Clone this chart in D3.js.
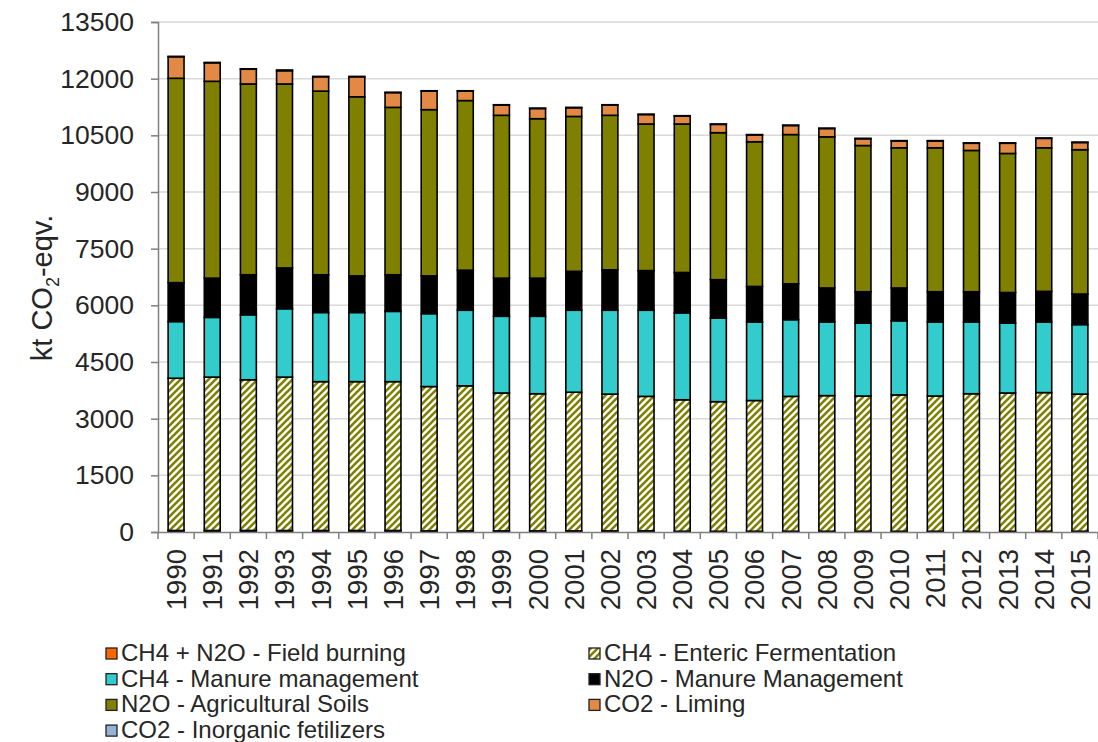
<!DOCTYPE html>
<html>
<head>
<meta charset="utf-8">
<script src="https://cdn.jsdelivr.net/npm/d3@7"></script>
<style>
  body { margin: 0; background: #fff; }
  text { font-family: "Liberation Sans", Arial, sans-serif; fill: #262626; }
</style>
</head>
<body>
<svg id="chart"></svg>
<script>
var years = ["1990","1991","1992","1993","1994","1995","1996","1997","1998","1999","2000","2001","2002",
             "2003","2004","2005","2006","2007","2008","2009","2010","2011","2012","2013","2014","2015"];

var fieldBurning = [40,40,40,40,40,40,40,30,30,30,30,30,30,30,20,20,20,20,20,20,20,20,20,20,20,20];
var enteric = [4030,4060,3990,4060,3940,3940,3940,3820,3840,3650,3630,3670,3620,3560,3480,3430,3460,3570,3590,3580,3610,3580,3640,3660,3670,3630];
var ch4Manure = [1500,1580,1720,1810,1830,1830,1860,1930,2000,2030,2050,2170,2220,2280,2300,2210,2080,2030,1950,1930,1960,1960,1900,1850,1870,1840];
var n2oManure = [1030,1040,1060,1080,1000,970,970,1000,1060,1010,1010,1030,1070,1050,1070,1020,940,950,900,830,870,800,800,810,810,810];
var agSoils = [5410,5210,5050,4870,4860,4740,4430,4400,4490,4310,4220,4100,4090,3880,3930,3890,3830,3950,4000,3870,3710,3810,3740,3680,3800,3820];
var liming = [570,490,390,350,380,530,390,490,250,270,270,230,270,250,210,220,180,240,220,180,180,180,190,270,250,190];
var inorganic = [10,10,10,20,10,10,10,10,10,10,10,10,10,10,10,10,10,10,10,10,10,10,10,10,10,10];

var yTicks = [0,1500,3000,4500,6000,7500,9000,10500,12000,13500];

var series = [
  {key: "fb",  name: "CH4 + N2O - Field burning", values: fieldBurning, color: "#ff6600"},
  {key: "ent", name: "CH4 - Enteric Fermentation", values: enteric, color: "url(#hatch)"},
  {key: "cm",  name: "CH4 - Manure management", values: ch4Manure, color: "#33cccc"},
  {key: "nm",  name: "N2O - Manure Management", values: n2oManure, color: "#000000"},
  {key: "soil",name: "N2O - Agricultural Soils", values: agSoils, color: "#808000"},
  {key: "lim", name: "CO2 - Liming", values: liming, color: "#e28a45"},
  {key: "inor",name: "CO2 - Inorganic fetilizers", values: inorganic, color: "#95b3d7"}
];

var width = 1098, height = 742;
var svg = d3.select("#chart").attr("width", width).attr("height", height);

var defs = svg.append("defs");
var pat = defs.append("pattern")
  .attr("id", "hatch")
  .attr("patternUnits", "userSpaceOnUse")
  .attr("width", 7).attr("height", 7);
pat.append("rect").attr("width", 7).attr("height", 7).attr("fill", "#fff");
pat.append("path")
  .attr("d", "M-1,1 l2,-2 M0,7 l7,-7 M6,8 l2,-2")
  .attr("stroke", "#808000")
  .attr("stroke-width", 2.6);

var rows = years.map(function(y, i) {
  var r = {year: y};
  series.forEach(function(s) { r[s.key] = s.values[i]; });
  return r;
});

var x = d3.scaleBand().domain(years).range([158, 1098]).paddingInner(0.56).paddingOuter(0.28);
var y = d3.scaleLinear().domain([0, 13500]).range([532, 22]);

// gridlines
svg.append("g")
  .selectAll("line")
  .data(yTicks.slice(1))
  .enter().append("line")
  .attr("x1", 158).attr("x2", 1098)
  .attr("y1", function(d) { return y(d); })
  .attr("y2", function(d) { return y(d); })
  .attr("stroke", "#d9d9d9")
  .attr("stroke-width", 1.5);

var stack = d3.stack().keys(series.map(function(s) { return s.key; }));
var layers = stack(rows);

svg.append("g")
  .selectAll("g")
  .data(layers)
  .enter().append("g")
  .attr("fill", function(d, i) { return series[i].color; })
  .selectAll("rect")
  .data(function(d) { return d; })
  .enter().append("rect")
  .attr("x", function(d) { return x(d.data.year); })
  .attr("width", x.bandwidth())
  .attr("y", function(d) { return y(d[1]); })
  .attr("height", function(d) { return y(d[0]) - y(d[1]); })
  .attr("stroke", "#000")
  .attr("stroke-width", 1.6);

// y axis
var yAxis = svg.append("g")
  .attr("transform", "translate(158,0)")
  .call(d3.axisLeft(y).tickValues(yTicks).tickSize(7).tickPadding(17).tickFormat(d3.format("d")));
yAxis.select(".domain").attr("stroke", "#7f7f7f").attr("stroke-width", 1.5);
yAxis.selectAll(".tick line").attr("stroke", "#7f7f7f").attr("stroke-width", 1.5);
yAxis.selectAll(".tick text")
  .style("font-family", "Liberation Sans, Arial, sans-serif")
  .style("font-size", "26.5px").attr("fill", "#262626");

// x axis
var xAxis = svg.append("g")
  .attr("transform", "translate(0,532)")
  .call(d3.axisBottom(x).tickSize(0).tickPadding(0));
xAxis.select(".domain").attr("stroke", "#7f7f7f").attr("stroke-width", 1.5);
xAxis.selectAll(".tick text")
  .style("font-family", "Liberation Sans, Arial, sans-serif")
  .style("font-size", "27.5px").attr("fill", "#262626")
  .attr("transform", "rotate(-90)")
  .attr("text-anchor", "end")
  .attr("dx", "-17px").attr("dy", "0.36em").attr("y", 0);

// tick marks between categories
svg.append("g")
  .selectAll("line")
  .data(d3.range(years.length + 1))
  .enter().append("line")
  .attr("x1", function(i) { return 158 + i * x.step(); })
  .attr("x2", function(i) { return 158 + i * x.step(); })
  .attr("y1", 532).attr("y2", 539)
  .attr("stroke", "#7f7f7f").attr("stroke-width", 1.5);

// y title
var yt = svg.append("text")
  .attr("transform", "translate(52,288) rotate(-90)")
  .attr("text-anchor", "middle")
  .style("font-size", "29px");
yt.append("tspan").text("kt CO");
yt.append("tspan").attr("dy", "7").style("font-size", "18px").text("2");
yt.append("tspan").attr("dy", "-7").text("-eqv.");

// legend: Excel-style two-column layout, row by row
var legend = svg.append("g");
series.forEach(function(s, i) {
  var col = i % 2;
  var row = Math.floor(i / 2);
  var lx = col === 0 ? 106 : 589;
  var ly = 648 + row * 25.7;
  legend.append("rect")
    .attr("x", lx).attr("y", ly)
    .attr("width", 11).attr("height", 11)
    .attr("fill", s.color)
    .attr("stroke", "#222").attr("stroke-width", 1.3);
  legend.append("text")
    .attr("x", lx + 15).attr("y", ly + 13)
    .style("font-size", "24px")
    .text(s.name);
});
</script>
</body>
</html>
